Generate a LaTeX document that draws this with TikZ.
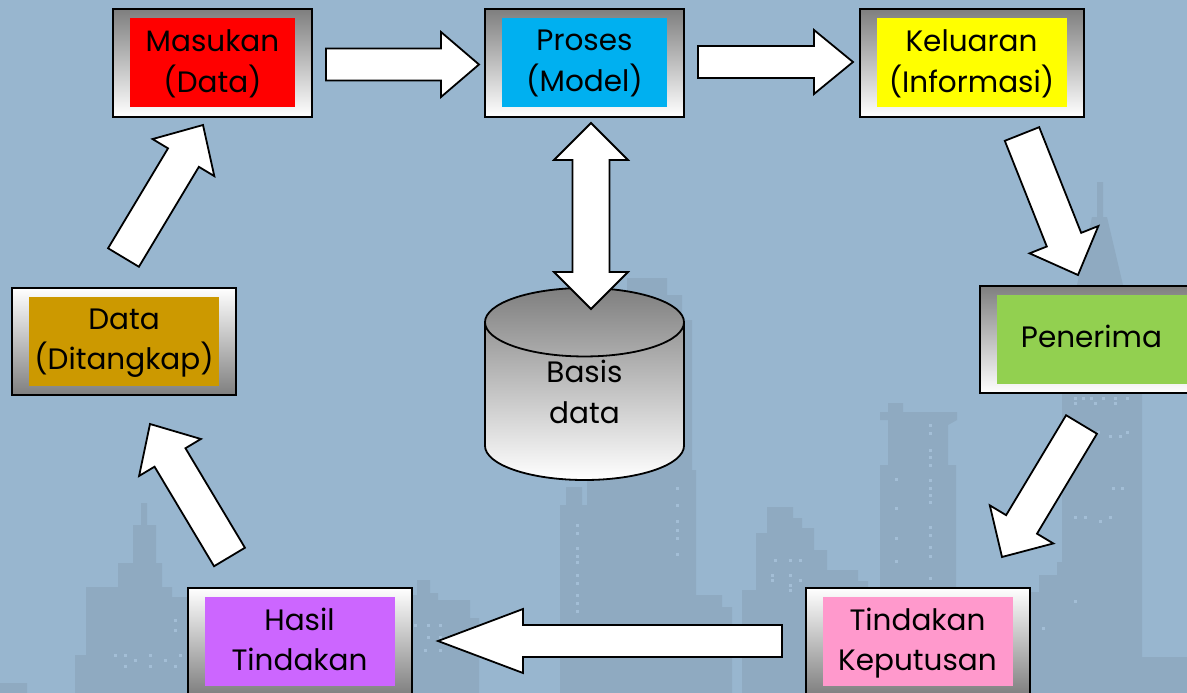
\documentclass[tikz,border=0pt]{standalone}
\usepackage{fontspec}
\setmainfont{Poppins}
\usetikzlibrary{calc, shapes.geometric}
\definecolor{skyblue}{HTML}{98B6CF}
\definecolor{citygray}{HTML}{8FAAC1}
\definecolor{citylight}{HTML}{A3BED6}
\definecolor{shadegray}{HTML}{7F7F7F}
\definecolor{masukred}{HTML}{FF0000}
\definecolor{prosesblue}{HTML}{00B0F0}
\definecolor{keluaryellow}{HTML}{FFFF00}
\definecolor{penerimagreen}{HTML}{92D050}
\definecolor{dataochre}{HTML}{CC9900}
\definecolor{hasilpurple}{HTML}{CC66FF}
\definecolor{tindakanpink}{HTML}{FF99CC}
\begin{document}
\begin{tikzpicture}[x=1pt, y=-1pt]
    \tikzstyle{panel}=[draw, line width=2pt, minimum height=107pt, inner sep=0pt,
        top color=shadegray, bottom color=white]
    \tikzstyle{panelflip}=[panel, top color=white, bottom color=shadegray]
    \tikzstyle{plate}=[minimum height=89pt, inner sep=0pt]
    \tikzstyle{caption}=[inner sep=0pt, align=center,
        font=\fontsize{29.5}{40.5}\selectfont,
        execute at begin node=\strut, execute at end node=\strut]
    \tikzset{connector/.style n args={3}{draw=black, fill=white, line width=1.8pt,
        to path={($(\tikztotarget)!#3!(\tikztostart)$) coordinate (neck)
            (\tikztostart) -- ($(\tikztostart)!#1!90:(\tikztotarget)$)
            -- ($(neck)!#1!90:(\tikztotarget)$) -- ($(neck)!#2!90:(\tikztotarget)$)
            -- (\tikztotarget) -- ($(neck)!#2!-90:(\tikztotarget)$)
            -- ($(neck)!#1!-90:(\tikztotarget)$)
            -- ($(\tikztostart)!#1!-90:(\tikztotarget)$) -- cycle}},
        biconnector/.style n args={3}{draw=black, fill=white, line width=1.8pt,
        to path={($(\tikztotarget)!#3!(\tikztostart)$) coordinate (neck)
            ($(\tikztostart)!#3!(\tikztotarget)$) coordinate (back)
            (\tikztostart) -- ($(back)!#2!-90:(\tikztotarget)$)
            -- ($(back)!#1!-90:(\tikztotarget)$) -- ($(neck)!#1!90:(\tikztostart)$)
            -- ($(neck)!#2!90:(\tikztostart)$) -- (\tikztotarget)
            -- ($(neck)!#2!-90:(\tikztostart)$) -- ($(neck)!#1!-90:(\tikztostart)$)
            -- ($(back)!#1!90:(\tikztotarget)$) -- ($(back)!#2!90:(\tikztotarget)$)
            -- cycle}}}

    \useasboundingbox (0,0) rectangle (1187,693);
    \clip (0,0) rectangle (1187,693);
    \fill [skyblue] (0,0) rectangle (1187,693);

    % city in the background
    \fill [citygray] (0,693) |- (27,683) |- (75,693) -- cycle;
    \fill [citygray] (75,693) |- (86,655) |- (118,587) |- (133,563) |- (141,525)
        |- (147,503) |- (156,525) |- (162,563) |- (172,587) |- (190,597) -- (190,693) -- cycle;
    \fill [citygray] (405,693) |- (417,595) |- (430,580) |- (438,593) |- (470,600)
        |- (479,618) -- (479,693) -- cycle;
    \fill [citygray] (560,693) |- (566,505) |- (582,487) |- (587,505) |- (627,300)
        |- (667,278) |- (682,295) |- (692,320) |- (696,470) |- (722,595) |- (732,607)
        -- (732,693) -- cycle;
    \fill [citygray] (742,693) |- (756,590) |- (767,533) |- (793,507) |- (802,518)
        |- (814,528) |- (827,550) |- (858,570) |- (868,581) -- (868,693) -- cycle;
    \fill [citygray] (880,693) |- (888,465) |- (880,420) -- (880,412) -| (888,403)
        -| (903,412) -| (957,420) -- (948,425) |- (956,465) -- (956,693) -- cycle;
    \fill [citygray] (1029,693) |- (1039,592) |- (1057,575) |- (1062,562) |- (1077,285)
        -- (1092,217) -- (1097,217) |- (1103,182) |- (1107,217) -- (1123,285) -| (1142,657)
        -| (1187,693) -- cycle;
    \foreach \x / \y in {577/525, 577/533, 577/548, 577/556, 577/562, 577/575, 577/583,
        577/595, 577/603, 577/611, 677/488, 677/505, 677/521, 677/530, 677/538, 677/554,
        930/425, 930/433, 930/450, 930/457, 930/465, 930/480, 930/488, 930/495, 930/502,
        930/527, 930/535, 930/547, 930/556, 930/578, 896/479, 896/508, 896/538, 896/561,
        1075/398, 1083/398, 1091/398, 1103/398, 1115/398, 1127/398, 1075/403, 1095/403, 1115/403,
        1098/432, 1110/436, 1120/436, 1127/432, 1113/488, 1122/488, 1075/517, 1085/517, 1100/521,
        1110/517, 1075/601, 1043/628, 115/655, 125/655, 135/660, 150/655, 165/660, 180/655,
        125/666, 150/666, 175/666, 175/620, 175/630, 415/625, 428/625, 440/625, 428/637,
        440/637, 425/650, 440/650, 775/560, 790/560, 800/560, 772/575, 790/575, 790/585,
        772/580, 800/580, 790/590}
        \fill [citylight] (\x-1.5,\y-1.5) rectangle (\x+1.5,\y+1.5);

    % the storage in the middle
    \node [cylinder, shape border rotate=90, aspect=0.9, anchor=shape center, draw,
        line width=1.8pt, top color=shadegray, bottom color=white, minimum width=199pt,
        minimum height=192pt, inner sep=0pt, align=center,
        font=\fontsize{29.5}{40.5}\selectfont, execute at begin node=\strut,
        execute at end node={\rule[-20pt]{0pt}{0pt}}] (basis)
        at (584.5,384) {Basis\\data};

    \foreach \name / \x / \y / \boxw / \tint / \drop / \txt in {
        masukan/212.5/63/199/masukred/4/{Masukan\\(Data)},
        proses/584.5/63/199/prosesblue/4/{Proses\\(Model)},
        keluaran/971.5/63/224/keluaryellow/4/{Keluaran\\(Informasi)},
        penerima/1091.5/339.5/224/penerimagreen/0/{Penerima}}
    {
        \node [panel, minimum width=\boxw pt] (\name-box) at (\x, \y) {};
        \node [plate, fill=\tint, minimum width=\boxw pt - 34pt] (\name-plate) at (\x, \y) {};
        \node [caption] (\name) at (\x, \y+\drop) {\txt};
    }

    \foreach \name / \x / \y / \tint / \txt in {
        data/124/341.5/dataochre/{Data\\(Ditangkap)},
        hasil/299.5/641.5/hasilpurple/{Hasil\\Tindakan},
        tindakan/917.5/641.5/tindakanpink/{Tindakan\\Keputusan}}
    {
        \node [panelflip, minimum width=224pt] (\name-box) at (\x, \y) {};
        \node [plate, fill=\tint, minimum width=190pt] (\name-plate) at (\x, \y) {};
        \node [caption] (\name) at (\x, \y+4) {\txt};
    }

    % free ends of the block arrows
    \coordinate (masukan-out) at (326,64.5);
    \coordinate (proses-in) at (479,64.5);
    \coordinate (proses-out) at (698,62);
    \coordinate (keluaran-in) at (853,62);
    \coordinate (keluaran-out) at (1022,134);
    \coordinate (penerima-in) at (1078,275);
    \coordinate (penerima-out) at (1081.5,424.5);
    \coordinate (tindakan-in) at (1002,557);
    \coordinate (tindakan-out) at (782,641);
    \coordinate (hasil-in) at (438,641);
    \coordinate (hasil-out) at (229.5,557);
    \coordinate (data-in) at (150,424);
    \coordinate (data-out) at (123.5,257.5);
    \coordinate (masukan-in) at (203,125);
    \coordinate (proses-db) at (591,123);
    \coordinate (basis-db) at (591,309);

    \foreach \source / \dest / \body / \head / \len in {
        masukan-out/proses-in/16/32.5/38,
        proses-out/keluaran-in/16/32/39,
        keluaran-out/penerima-in/18.5/37/38,
        penerima-out/tindakan-in/18/37/38,
        tindakan-out/hasil-in/16/32/85,
        hasil-out/data-in/18/36/39,
        data-out/masukan-in/18/36/38}
        \draw [connector={\body pt}{\head pt}{\len pt}] (\source) to (\dest);

    \draw [biconnector={18.5pt}{37pt}{37pt}] (proses-db) to (basis-db);
\end{tikzpicture}
\end{document}
